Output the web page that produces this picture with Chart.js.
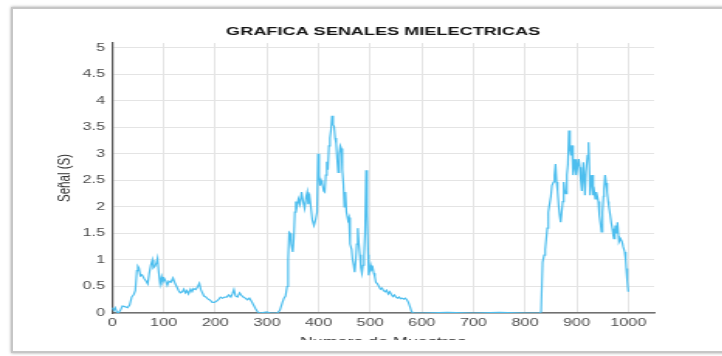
<!DOCTYPE html>
<html lang="es">
<head>
<meta charset="utf-8">
<title>Grafica senales mielectricas</title>
<script src="https://cdn.jsdelivr.net/npm/chart.js@4.4.1/dist/chart.umd.min.js"></script>
<style>
  html, body { margin: 0; padding: 0; background: #fff; }
  body { width: 722px; height: 356px; position: relative; overflow: hidden; }
  #marco {
    position: absolute; left: 11px; top: 7px; width: 760px; height: 346px;
    box-sizing: border-box; border: 2px solid #c6c6c6;
    box-shadow: 0 0 3px rgba(0, 0, 0, 0.35);
  }
  #recorte { position: absolute; left: 0; top: 0; width: 722px; height: 340px; overflow: hidden; }
  #lienzo { position: absolute; left: 0; top: 0; transform: scaleX(1.55); transform-origin: 0 0; }
</style>
</head>
<body>
<div id="marco"></div>
<div id="recorte">
  <canvas id="lienzo" width="466" height="356"></canvas>
</div>
<script>
// numero de muestra y valor de la senal (S)
const muestras = [
  0, 3, 6, 9, 12, 16, 20, 25, 30, 34,
  38, 42, 45, 48, 50, 52, 55, 58, 62, 66,
  69, 72, 75, 78, 80, 83, 86, 88, 90, 93,
  96, 98, 101, 104, 107, 110, 114, 118, 121, 125,
  129, 132, 136, 139, 142, 145, 148, 152, 155, 158,
  162, 166, 169, 172, 175, 178, 182, 186, 190, 194,
  198, 202, 206, 210, 214, 218, 222, 226, 230, 233,
  236, 239, 243, 247, 250, 254, 258, 262, 266, 270,
  274, 278, 282, 286, 292, 300, 306, 320, 325, 330,
  333, 336, 339, 341, 343, 345, 347, 350, 352, 354,
  356, 358, 361, 364, 367, 370, 373, 376, 378, 380,
  382, 385, 388, 391, 394, 397, 399, 401, 403, 405,
  407, 410, 412, 414, 416, 418, 420, 422, 424, 426,
  428, 430, 432, 434, 436, 438, 440, 442, 444, 446,
  448, 450, 452, 454, 457, 459, 461, 464, 466, 468,
  470, 472, 474, 476, 478, 480, 482, 484, 486, 488,
  490, 492, 494, 496, 497, 499, 501, 503, 505, 507,
  509, 511, 514, 517, 520, 523, 526, 529, 532, 535,
  538, 541, 544, 547, 550, 553, 556, 559, 562, 565,
  568, 571, 574, 577, 580, 583, 600, 650, 700, 750,
  800, 829, 831, 834, 837, 839, 841, 843, 845, 847,
  850, 852, 855, 857, 859, 861, 863, 865, 867, 869,
  871, 873, 875, 877, 879, 881, 883, 885, 887, 889,
  891, 893, 895, 897, 899, 902, 904, 906, 908, 910,
  913, 916, 918, 921, 923, 925, 926, 928, 930, 932,
  934, 936, 938, 940, 942, 944, 946, 948, 950, 952,
  953, 955, 957, 959, 961, 962, 965, 967, 969, 971,
  972, 974, 975, 977, 979, 981, 982, 985, 988, 990,
  993, 995, 996, 998, 1000
];
const senal = [
  0.1, 0.05, 0.1, 0.02, 0, 0.05, 0.13, 0.12, 0.1, 0.15,
  0.3, 0.35, 0.42, 0.8, 0.88, 0.85, 0.7, 0.72, 0.65, 0.6,
  0.55, 0.75, 0.9, 1.0, 0.85, 0.88, 0.95, 1.03, 0.8, 0.55,
  0.68, 0.58, 0.65, 0.6, 0.52, 0.6, 0.58, 0.66, 0.58, 0.5,
  0.42, 0.38, 0.4, 0.45, 0.38, 0.42, 0.36, 0.45, 0.4, 0.46,
  0.44, 0.5, 0.56, 0.44, 0.38, 0.32, 0.3, 0.26, 0.24, 0.2,
  0.2, 0.22, 0.25, 0.3, 0.28, 0.3, 0.3, 0.34, 0.3, 0.36,
  0.44, 0.32, 0.3, 0.38, 0.34, 0.3, 0.28, 0.25, 0.28, 0.22,
  0.15, 0.08, 0.02, 0, 0.01, 0.02, 0, 0, 0.05, 0.2,
  0.28, 0.32, 0.5, 1.0, 1.52, 1.5, 1.3, 1.15, 1.4, 1.9,
  2.1, 2.0, 2.15, 2.05, 2.28, 2.1, 1.97, 2.2, 2.28, 2.05,
  2.25, 2.0, 1.75, 1.65, 1.75, 1.9, 3.0, 2.6, 2.4, 2.5,
  2.45, 2.3, 2.28, 2.6, 2.85, 2.7, 3.15, 3.3, 3.45, 3.72,
  3.55, 3.52, 3.3, 3.2, 2.9, 2.65, 3.0, 3.15, 3.1, 2.7,
  2.45, 2.0, 2.28, 1.9, 1.75, 1.8, 1.3, 1.2, 1.0, 0.9,
  0.77, 1.0, 1.3, 1.6, 1.3, 1.1, 0.85, 0.75, 0.9, 1.08,
  1.5, 2.69, 1.9, 1.1, 0.71, 0.8, 0.9, 0.82, 0.85, 0.75,
  0.68, 0.58, 0.55, 0.5, 0.45, 0.47, 0.42, 0.4, 0.43, 0.36,
  0.4, 0.35, 0.31, 0.34, 0.3, 0.28, 0.3, 0.27, 0.28, 0.26,
  0.28, 0.25, 0.2, 0.12, 0.03, 0, 0, 0.01, 0, 0.01,
  0, 0, 0.02, 0.96, 1.09, 1.2, 1.4, 1.6, 1.9, 2.03,
  2.2, 2.4, 2.47, 2.6, 2.81, 2.47, 2.3, 2.03, 1.85, 1.71,
  1.9, 2.1, 2.47, 2.3, 2.25, 2.6, 2.8, 3.44, 3.1, 2.97,
  3.16, 2.6, 2.75, 2.9, 2.6, 2.78, 2.9, 2.75, 2.5, 2.3,
  2.84, 2.22, 2.66, 2.97, 3.22, 2.6, 2.22, 2.45, 2.6, 2.22,
  2.3, 2.15, 2.28, 2.2, 2.1, 1.84, 1.7, 1.53, 1.9, 2.2,
  2.34, 2.6, 2.45, 2.28, 2.1, 2.03, 1.84, 1.7, 1.59, 1.45,
  1.4, 1.55, 1.65, 1.5, 1.71, 1.45, 1.34, 1.4, 1.34, 1.25,
  1.15, 1.0, 0.84, 0.6, 0.4
];

const titulo = "GRAFICA SENALES MIELECTRICAS";
const etiquetaX = "Numero de Muestras";
const etiquetaY = "Señal (S)";
const limiteX = [0, 1050];
const limiteY = [0, 5.09];

const fuente = '"Liberation Sans", Arial, Helvetica, sans-serif';

// titulo centrado sobre el area de trazado (como en MATLAB)
const tituloGrafica = {
  id: "tituloGrafica",
  afterDraw(chart) {
    const { ctx, chartArea } = chart;
    ctx.save();
    ctx.font = "bold 11.7px " + fuente;
    ctx.fillStyle = "#141414";
    ctx.textAlign = "center";
    ctx.textBaseline = "middle";
    ctx.fillText(titulo, (chartArea.left + chartArea.right) / 2, 31.5);
    ctx.restore();
  }
};

const puntos = muestras.map((m, i) => ({ x: m, y: senal[i] }));

// etiquetas sin separador de miles ni decimales de relleno
const etiquetaSimple = (valor) => String(Math.round(valor * 10) / 10);

new Chart(document.getElementById("lienzo").getContext("2d"), {
  type: "line",
  data: {
    datasets: [{
      data: puntos,
      borderColor: "#4dbeee",
      borderWidth: 1.2,
      pointRadius: 0,
      tension: 0,
      fill: false
    }]
  },
  options: {
    responsive: false,
    animation: false,
    devicePixelRatio: 1,
    layout: { padding: { top: 43, right: 44, bottom: 0, left: 0 } },
    plugins: {
      legend: { display: false },
      title: { display: false },
      tooltip: { enabled: false }
    },
    scales: {
      x: {
        type: "linear",
        min: limiteX[0],
        max: limiteX[1],
        afterFit: (escala) => { escala.height = 43; },
        ticks: {
          stepSize: 100,
          includeBounds: false,
          maxRotation: 0,
          padding: 4,
          color: "#4d4d4d",
          font: { family: fuente, size: 10.5 },
          callback: etiquetaSimple
        },
        grid: { color: "#e4e4e4", tickLength: 0 },
        border: { color: "#707070", width: 1.5 },
        title: {
          display: true,
          text: etiquetaX,
          color: "#333",
          font: { family: fuente, size: 11.5 },
          padding: { top: 0, bottom: 7.5 }
        }
      },
      y: {
        min: limiteY[0],
        max: limiteY[1],
        afterFit: (escala) => { escala.width = 72.3; },
        ticks: {
          stepSize: 0.5,
          includeBounds: false,
          padding: 4.5,
          color: "#4d4d4d",
          font: { family: fuente, size: 10.5 },
          callback: etiquetaSimple
        },
        grid: { color: "#e4e4e4", tickLength: 0 },
        border: { color: "#555", width: 1.2 },
        title: {
          display: true,
          text: etiquetaY,
          color: "#333",
          font: { family: fuente, size: 11.5 },
          padding: { top: 35, bottom: 0 }
        }
      }
    }
  },
  plugins: [tituloGrafica]
});
</script>
</body>
</html>
